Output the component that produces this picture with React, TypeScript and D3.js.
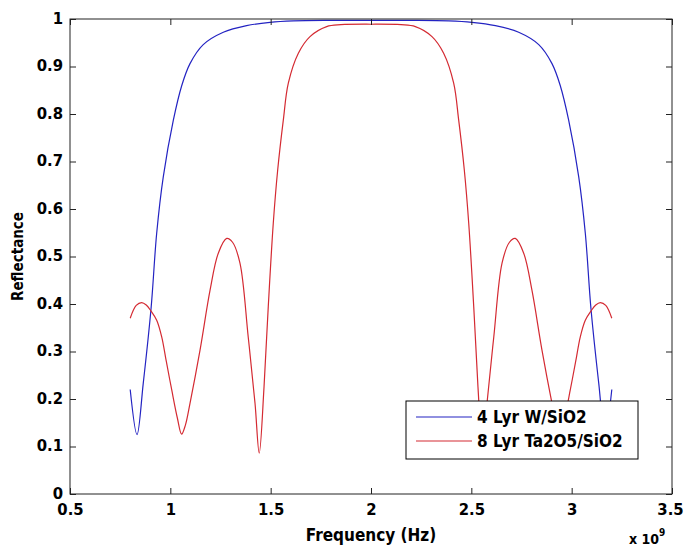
import React, { useEffect, useRef } from "react";
import * as d3 from "d3";

const width = 684;
const height = 550;
const margin = { top: 19, right: 12, bottom: 56, left: 70 };
const font = "'DejaVu Sans Condensed', 'Liberation Sans', Arial, sans-serif";

// tick labels
const freqTicks = [0.5, 1, 1.5, 2, 2.5, 3, 3.5];
const reflTicks = [0, 0.1, 0.2, 0.3, 0.4, 0.5, 0.6, 0.7, 0.8, 0.9, 1];

// 4 layer W/SiO2 (frequency in GHz, i.e. x 10^9 Hz)
const wFreq = [0.8, 0.834, 0.865, 0.904, 0.932, 0.965, 1.015, 1.057, 1.098, 1.164, 1.264, 1.38, 1.497, 1.613, 1.8, 2.0,
  2.2, 2.387, 2.503, 2.62, 2.736, 2.836, 2.902, 2.943, 2.985, 3.035, 3.068, 3.096, 3.135, 3.166, 3.2];
const wRefl = [0.22, 0.125, 0.233, 0.391, 0.549, 0.668, 0.787, 0.86, 0.906, 0.946, 0.972, 0.986, 0.993, 0.996, 0.997, 0.997,
  0.997, 0.996, 0.993, 0.986, 0.972, 0.946, 0.906, 0.86, 0.787, 0.668, 0.549, 0.391, 0.233, 0.125, 0.22];

// 8 layer Ta2O5/SiO2
const taFreq = [0.8, 0.83, 0.857, 0.88, 0.904, 0.932, 0.957, 0.98, 1.007, 1.035, 1.056, 1.075, 1.098, 1.148, 1.198, 1.239,
  1.281, 1.31, 1.347, 1.388, 1.422, 1.443, 1.467, 1.488, 1.513, 1.535, 1.563, 1.588, 1.638, 1.696, 1.779, 1.85, 2.0,
  2.15, 2.221, 2.304, 2.362, 2.412, 2.437, 2.465, 2.487, 2.512, 2.533, 2.557, 2.578, 2.612, 2.653, 2.69,
  2.719, 2.761, 2.802, 2.852, 2.902, 2.925, 2.944, 2.965, 2.993, 3.02, 3.043, 3.068, 3.096, 3.12, 3.143, 3.17, 3.2];
const taRefl = [0.37, 0.397, 0.403, 0.398, 0.385, 0.366, 0.331, 0.279, 0.219, 0.16, 0.126, 0.145, 0.191, 0.303, 0.429, 0.507,
  0.538, 0.53, 0.486, 0.331, 0.191, 0.086, 0.226, 0.394, 0.57, 0.682, 0.787, 0.865, 0.928, 0.963, 0.984, 0.988, 0.989,
  0.988, 0.984, 0.963, 0.928, 0.865, 0.787, 0.682, 0.57, 0.394, 0.226, 0.086, 0.191, 0.331, 0.486, 0.53,
  0.538, 0.507, 0.429, 0.303, 0.191, 0.145, 0.126, 0.16, 0.219, 0.279, 0.331, 0.366, 0.385, 0.398, 0.403, 0.397, 0.37];

const series = [
  { name: "4 Lyr W/SiO2", freq: wFreq, refl: wRefl, color: "#2323c2" },
  { name: "8 Lyr Ta2O5/SiO2", freq: taFreq, refl: taRefl, color: "#d42a32" },
];

const x = d3.scaleLinear().domain([0.5, 3.5]).range([margin.left, width - margin.right]);
const y = d3.scaleLinear().domain([0, 1]).range([height - margin.bottom, margin.top]);

const lineGen = d3
  .line<[number, number]>()
  .x((d) => x(d[0]))
  .y((d) => y(d[1]))
  .curve(d3.curveCatmullRom.alpha(0.5));

export default function App() {
  const xAxisRef = useRef<SVGGElement>(null);
  const yAxisRef = useRef<SVGGElement>(null);
  const topRef = useRef<SVGGElement>(null);
  const rightRef = useRef<SVGGElement>(null);

  useEffect(() => {
    const style = (g: any) => {
      g.select(".domain").remove();
      g.attr("font-family", font).attr("font-size", 16.5).attr("font-weight", "bold");
      g.selectAll("line").attr("stroke", "#222");
      g.selectAll("text").attr("fill", "#000");
    };
    d3.select(xAxisRef.current!)
      .call(d3.axisBottom(x).tickValues(freqTicks).tickFormat((d) => String(d)).tickSizeInner(-6).tickSizeOuter(0).tickPadding(9))
      .call(style);
    // keep the last label inside the window
    d3.select(xAxisRef.current!)
      .selectAll("text")
      .filter((d: any) => d === freqTicks[freqTicks.length - 1])
      .attr("x", -2);
    d3.select(yAxisRef.current!)
      .call(d3.axisLeft(y).tickValues(reflTicks).tickFormat((d) => String(d)).tickSizeInner(-6).tickSizeOuter(0).tickPadding(7))
      .call(style);
    d3.select(yAxisRef.current!).selectAll("text").attr("dy", "0.26em");
    d3.select(topRef.current!)
      .call(d3.axisTop(x).tickValues(freqTicks).tickFormat(() => "").tickSizeInner(-6).tickSizeOuter(0))
      .call(style);
    d3.select(rightRef.current!)
      .call(d3.axisRight(y).tickValues(reflTicks).tickFormat(() => "").tickSizeInner(-6).tickSizeOuter(0))
      .call(style);
  }, []);

  const plotW = width - margin.left - margin.right;
  const plotH = height - margin.top - margin.bottom;
  const legend = { x: 406, y: 401, w: 232, h: 58 };

  return (
    <div style={{ position: "absolute", left: 0, top: 0 }}>
      <svg width={width} height={height} style={{ display: "block", background: "#fff" }}>
        <rect x={0} y={0} width={width} height={height} fill="#fff" />
        {series.map((s) => (
          <path
            key={s.name}
            d={lineGen(s.freq.map((f, i) => [f, s.refl[i]] as [number, number])) || ""}
            fill="none"
            stroke={s.color}
            strokeWidth={1.2}
          />
        ))}
        <rect x={margin.left} y={margin.top} width={plotW} height={plotH} fill="none" stroke="#222" strokeWidth={1} />
        <g ref={xAxisRef} transform={`translate(0,${height - margin.bottom})`} />
        <g ref={yAxisRef} transform={`translate(${margin.left},0)`} />
        <g ref={topRef} transform={`translate(0,${margin.top})`} />
        <g ref={rightRef} transform={`translate(${width - margin.right},0)`} />

        <text
          transform={`translate(18,${margin.top + plotH / 2}) rotate(-90)`}
          textAnchor="middle"
          dy="0.35em"
          fontFamily={font}
          fontWeight="bold"
          fontSize={15}
        >
          Reflectance
        </text>
        <text
          x={margin.left + plotW / 2}
          y={541}
          textAnchor="middle"
          fontFamily={font}
          fontWeight="bold"
          fontSize={17}
        >
          Frequency (Hz)
        </text>
        <text x={629} y={544} fontFamily={font} fontWeight="bold" fontSize={14}>
          x 10
          <tspan dy={-8} fontSize={10}>
            9
          </tspan>
        </text>

        <g>
          <rect x={legend.x} y={legend.y} width={legend.w} height={legend.h} fill="#fff" stroke="#000" strokeWidth={1} />
          {series.map((s, i) => {
            const ly = legend.y + 16 + i * 24;
            return (
              <g key={s.name}>
                <line x1={legend.x + 10} x2={legend.x + 66} y1={ly} y2={ly} stroke={s.color} strokeWidth={1.2} />
                <text
                  x={legend.x + 71}
                  y={ly}
                  dy="0.35em"
                  fontFamily={font}
                  fontWeight="bold"
                  fontSize={17}
                >
                  {s.name}
                </text>
              </g>
            );
          })}
        </g>
      </svg>
    </div>
  );
}
